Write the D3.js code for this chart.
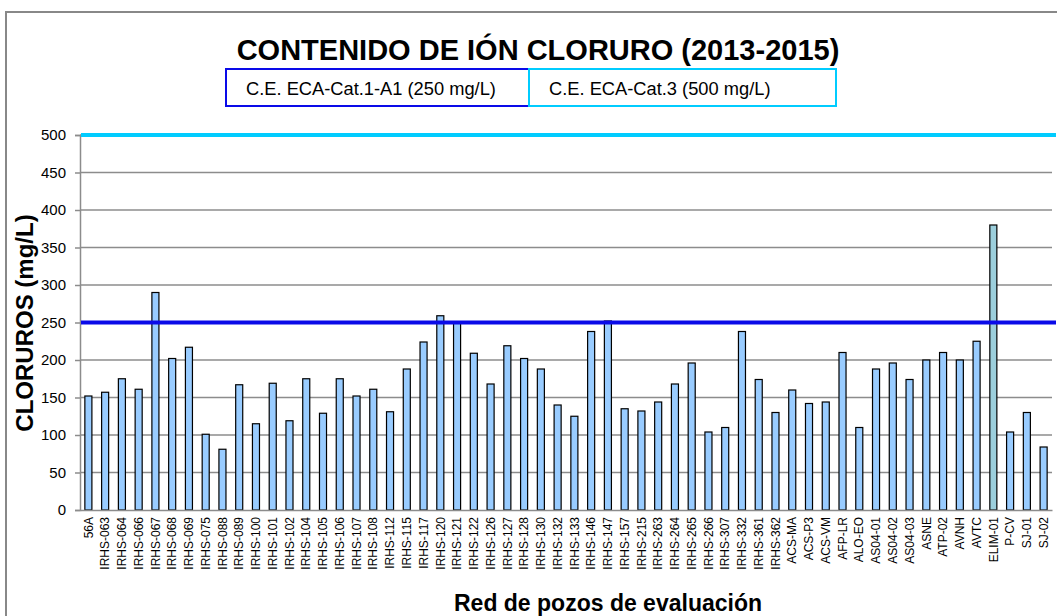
<!DOCTYPE html>
<html>
<head>
<meta charset="utf-8">
<script src="https://cdn.jsdelivr.net/npm/d3@7"></script>
<style>
  html, body { margin: 0; padding: 0; background: #fff; }
  svg { display: block; font-family: Arial, "Liberation Sans", sans-serif; }
</style>
</head>
<body>
<svg id="chart" width="1057" height="616"></svg>
<script>
// Wells in the monitoring network
const categories = [
  "56A", "IRHS-063", "IRHS-064", "IRHS-066", "IRHS-067", "IRHS-068", "IRHS-069",
  "IRHS-075", "IRHS-088", "IRHS-089", "IRHS-100", "IRHS-101", "IRHS-102", "IRHS-104",
  "IRHS-105", "IRHS-106", "IRHS-107", "IRHS-108", "IRHS-112", "IRHS-115", "IRHS-117",
  "IRHS-120", "IRHS-121", "IRHS-122", "IRHS-126", "IRHS-127", "IRHS-128", "IRHS-130",
  "IRHS-132", "IRHS-133", "IRHS-146", "IRHS-147", "IRHS-157", "IRHS-215", "IRHS-263",
  "IRHS-264", "IRHS-265", "IRHS-266", "IRHS-307", "IRHS-332", "IRHS-361", "IRHS-362",
  "ACS-MA", "ACS-P3", "ACS-VM", "AFP-LR", "ALO-EO", "AS04-01", "AS04-02", "AS04-03",
  "ASNE", "ATP-02", "AVNH", "AVTC", "ELIM-01", "P-CV", "SJ-01", "SJ-02"
];

// Chloride content (mg/L)
const cloruros = [
  152, 157, 175, 161, 290, 202, 217,
  101, 81, 167, 115, 169, 119, 175,
  129, 175, 152, 161, 131, 188, 224,
  259, 251, 209, 168, 219, 202, 188,
  140, 125, 238, 252, 135, 132, 144,
  168, 196, 104, 110, 238, 174, 130,
  160, 142, 144, 210, 110, 188, 196, 174,
  200, 210, 200, 225, 380, 104, 130, 84
];

// Water quality standards (ECA)
const limitLabels = ["C.E. ECA-Cat.1-A1 (250 mg/L)", "C.E. ECA-Cat.3 (500 mg/L)"];
const limitValues = [250, 500];

const yTicks = [0, 50, 100, 150, 200, 250, 300, 350, 400, 450, 500];

const title = "CONTENIDO DE IÓN CLORURO (2013-2015)";
const yTitle = "CLORUROS (mg/L)";
const xTitle = "Red de pozos de evaluación";

// ---- drawing ----
const svg = d3.select("#chart");
const limitColors = ["#0a0ae8", "#00ccff"];
const highlighted = "ELIM-01";

const plot = { left: 80, right: 1052, top: 135, bottom: 510 };

const x = d3.scaleBand()
  .domain(categories)
  .range([plot.left, plot.right])
  .paddingInner(0.58)
  .paddingOuter(0.29);

const y = d3.scaleLinear()
  .domain([0, 500])
  .range([plot.bottom, plot.top]);

// outer frame
svg.append("path")
  .attr("d", "M6,630 L6,12 L1070,12")
  .attr("fill", "none")
  .attr("stroke", "#888")
  .attr("stroke-width", 2);

// title
svg.append("text")
  .attr("x", 538).attr("y", 60)
  .attr("text-anchor", "middle")
  .attr("font-size", 29).attr("font-weight", "bold")
  .text(title);

// legend boxes
const legendX = [226, 529];
const legendW = [303, 307];
limitLabels.forEach((lab, i) => {
  const g = svg.append("g");
  g.append("rect")
    .attr("x", legendX[i]).attr("y", 69)
    .attr("width", legendW[i]).attr("height", 37)
    .attr("fill", "#fff")
    .attr("stroke", limitColors[i]).attr("stroke-width", 2);
  g.append("text")
    .attr("x", legendX[i] + 20).attr("y", 95)
    .attr("font-size", 18.3)
    .text(lab);
});

// gridlines
svg.append("g")
  .selectAll("line")
  .data(yTicks.filter(d => d > 0))
  .join("line")
  .attr("x1", plot.left).attr("x2", plot.right)
  .attr("y1", d => y(d)).attr("y2", d => y(d))
  .attr("stroke", "#8c8c8c").attr("stroke-width", 1.5);

// y axis
const yAxis = svg.append("g")
  .attr("transform", `translate(${plot.left},0)`)
  .call(d3.axisLeft(y).tickValues(yTicks).tickSize(5).tickPadding(9));
yAxis.select(".domain").attr("stroke", "#8c8c8c").attr("stroke-width", 1.5);
yAxis.selectAll(".tick line").attr("stroke", "#8c8c8c").attr("stroke-width", 1.5);
yAxis.selectAll(".tick text")
  .attr("font-size", 15).attr("font-family", "Arial, 'Liberation Sans', sans-serif")
  .attr("fill", "#000");

// bars
svg.append("g")
  .selectAll("rect")
  .data(categories.map((c, i) => ({ c, v: cloruros[i] })))
  .join("rect")
  .attr("x", d => x(d.c))
  .attr("y", d => y(d.v))
  .attr("width", x.bandwidth())
  .attr("height", d => y(0) - y(d.v))
  .attr("fill", d => d.c === highlighted ? "#9ccfdc" : "#99ccff")
  .attr("stroke", "#000").attr("stroke-width", 1.2);

// x axis
const xAxis = svg.append("g")
  .attr("transform", `translate(0,${plot.bottom})`)
  .call(d3.axisBottom(x).tickSize(0).tickPadding(0));
xAxis.select(".domain").attr("stroke", "#8c8c8c").attr("stroke-width", 1.5);
xAxis.selectAll(".tick text")
  .attr("font-size", 12).attr("font-family", "Arial, 'Liberation Sans', sans-serif")
  .attr("fill", "#000")
  .attr("text-anchor", "end")
  .attr("transform", "translate(0,7) rotate(-90)")
  .attr("x", 0).attr("y", 0).attr("dy", "0.35em");

// limit lines
svg.append("g")
  .selectAll("line")
  .data(limitValues)
  .join("line")
  .attr("x1", plot.left + 1).attr("x2", 1056)
  .attr("y1", d => y(d)).attr("y2", d => y(d))
  .attr("stroke", (d, i) => limitColors[i])
  .attr("stroke-width", 4);

// axis titles
svg.append("text")
  .attr("transform", "translate(33,323) rotate(-90)")
  .attr("text-anchor", "middle")
  .attr("font-size", 24).attr("font-weight", "bold")
  .text(yTitle);

svg.append("text")
  .attr("x", 608).attr("y", 611)
  .attr("text-anchor", "middle")
  .attr("font-size", 23).attr("font-weight", "bold")
  .text(xTitle);
</script>
</body>
</html>
